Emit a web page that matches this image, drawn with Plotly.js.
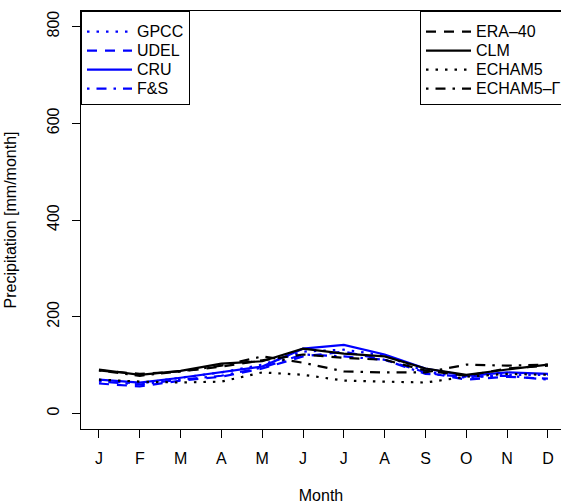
<!DOCTYPE html>
<html>
<head>
<meta charset="utf-8">
<script src="https://cdn.plot.ly/plotly-3.0.1.min.js"></script>
<style>html,body{margin:0;padding:0;background:#fff;}#chart{width:561px;height:504px;}</style>
</head>
<body>
<div id="chart"></div>
<script>
var months = [1,2,3,4,5,6,7,8,9,10,11,12];
var monthLabels = ['J','F','M','A','M','J','J','A','S','O','N','D'];
var yTicks = [0, 200, 400, 600, 800];

var gpcc   = [68, 62, 74, 85, 101, 128, 132, 120, 87, 74, 80, 80];
var udel   = [62, 56, 68, 76, 93, 118, 128, 111, 85, 70, 76, 72];
var cru    = [70, 64, 74, 85, 97, 134, 142, 122, 93, 78, 85, 82];
var fs     = [66, 60, 70, 78, 95, 122, 118, 111, 82, 76, 78, 70];
var era40  = [89, 82, 87, 97, 110, 122, 115, 111, 89, 78, 93, 99];
var clm    = [91, 80, 88, 103, 108, 134, 124, 118, 93, 80, 91, 101];
var echam5 = [70, 66, 64, 66, 85, 80, 68, 66, 64, 76, 82, 80];
var echamG = [89, 78, 87, 99, 118, 105, 87, 85, 85, 101, 99, 101];

var DOT = '2.5px,7px', DASH = '10px,8px', DOTDASH = '2.5px,7px,10px,7px';
var LW = 2.2;
function big(s) { return '<span style="font-size:16px">' + s + '</span>'; }
function tr(name, y, color, dash, legend) {
  return {x: months, y: y, name: big(name), type: 'scatter', mode: 'lines',
    line: {color: color, width: LW, dash: dash}, legend: legend};
}
var data = [
  tr('GPCC', gpcc, '#0000ff', DOT, 'legend'),
  tr('UDEL', udel, '#0000ff', DASH, 'legend'),
  tr('CRU', cru, '#0000ff', 'solid', 'legend'),
  tr('F&amp;S', fs, '#0000ff', DOTDASH, 'legend'),
  tr('ERA–40', era40, '#000000', DASH, 'legend2'),
  tr('CLM', clm, '#000000', 'solid', 'legend2'),
  tr('ECHAM5', echam5, '#000000', DOT, 'legend2'),
  tr('ECHAM5–Γ', echamG, '#000000', DOTDASH, 'legend2')
];
var font = {family: 'Liberation Sans, Arial, sans-serif', size: 16, color: '#000'};
var legFont = {family: 'Liberation Sans, Arial, sans-serif', size: 12.3, color: '#000'};
var legBase = {bgcolor: '#fff', bordercolor: '#000', borderwidth: 1, font: legFont,
  yanchor: 'top', xanchor: 'left', y: 1, itemwidth: 45, tracegroupgap: 0,
  title: {text: '&nbsp;', font: {family: 'Liberation Sans, Arial, sans-serif', size: 4, color: '#fff'}}};
var layout = {
  width: 561, height: 504,
  margin: {l: 81, r: 0, t: 11, b: 75, autoexpand: false},
  paper_bgcolor: '#fff', plot_bgcolor: '#fff',
  font: font,
  showlegend: true,
  xaxis: {range: [0.56, 12.32], tickvals: months, ticktext: monthLabels,
    showgrid: false, zeroline: false, showline: true, mirror: true, linecolor: '#000', linewidth: 1,
    ticks: 'outside', ticklen: 8, tickcolor: '#000', tickfont: font, ticklabelstandoff: 7,
    title: {text: 'Month', font: font, standoff: 24}},
  yaxis: {range: [-32, 832], tickvals: yTicks, showgrid: false, zeroline: false,
    showline: true, mirror: false, linecolor: '#000', linewidth: 1,
    ticks: 'outside', ticklen: 8, tickcolor: '#000', tickangle: -90, tickfont: font, ticklabelstandoff: 7,
    title: {text: 'Precipitation [mm/month]', font: font, standoff: 23}},
  legend: Object.assign({}, legBase, {x: 0}),
  legend2: Object.assign({}, legBase, {x: (420 - 81) / 480})
};
Plotly.newPlot('chart', data, layout, {staticPlot: true});
</script>
</body>
</html>
